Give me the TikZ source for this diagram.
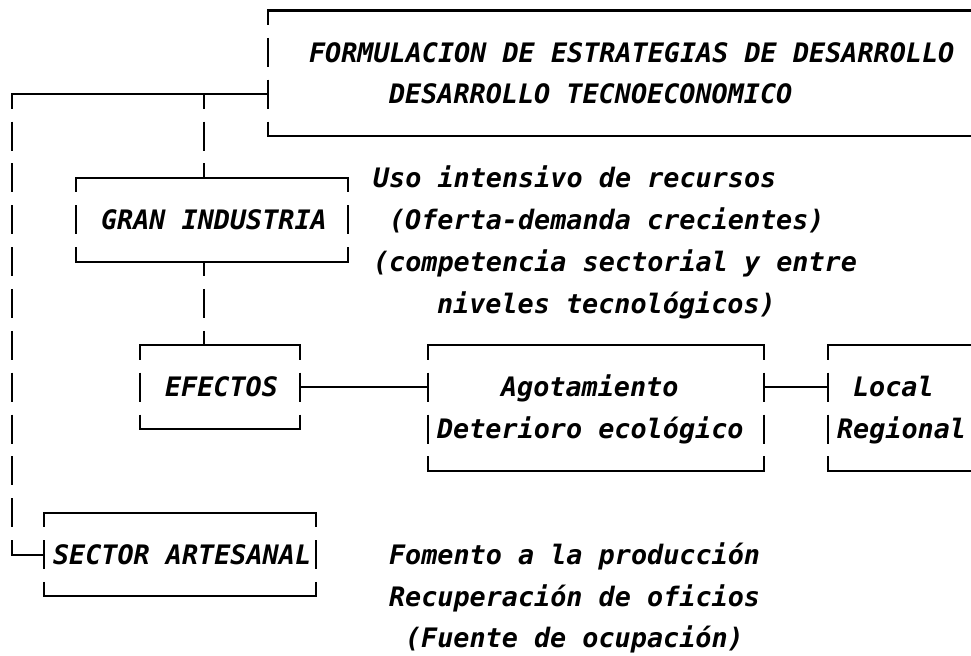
\documentclass[tikz,border=0pt]{standalone}
\usepackage{fontspec}
\setmonofont{DejaVu Sans Mono}
\newcommand\dfont{\fontsize{26.8}{30}\selectfont\ttfamily\bfseries\itshape}
\tikzset{
  hl/.style={line width=2.1pt, line cap=rect},
  vl/.style={line width=2.1pt, dash pattern=on 29pt off 12.85pt, dash phase=14.5pt},
  boxn/.style={rectangle, draw=none, inner sep=0pt, outer sep=0pt},
  txt/.style={anchor=base west, inner sep=0pt, outer sep=0pt, yshift=-9.7pt, font=\dfont, xshift=1pt}
}
\newcommand\dbox[1]{%
  \draw[hl] (#1.north west) -- (#1.north east);
  \draw[hl] (#1.south west) -- (#1.south east);
  \draw[vl] (#1.north west) -- (#1.south west);
  \draw[vl] (#1.north east) -- (#1.south east);}
\begin{document}
\begin{tikzpicture}[x=16pt, y=-41.85pt]
\useasboundingbox (-0.75,-0.2509) rectangle (59.9375,15.424);
\begin{scope}
% boxes (cols a..b, rows c..d)
\node[boxn, minimum width=704pt, minimum height=125.55pt] (main) at (38,1.5) {};
\node[boxn, minimum width=272pt, minimum height=83.7pt] (gran) at (12.5,5) {};
\node[boxn, minimum width=160pt, minimum height=83.7pt] (efectos) at (13,9) {};
\node[boxn, minimum width=336pt, minimum height=125.55pt] (agot) at (36.5,9.5) {};
\node[boxn, minimum width=144pt, minimum height=125.55pt] (local) at (55.5,9.5) {};
\node[boxn, minimum width=272pt, minimum height=83.7pt] (sector) at (10.5,13) {};
\dbox{main}\dbox{gran}\dbox{efectos}\dbox{agot}\dbox{local}\dbox{sector}
% junctions
\coordinate (j1) at (0,2);
\coordinate (t1) at (12,2);
% texts
\node[txt] (tf) at (18.5,1) {FORMULACION DE ESTRATEGIAS DE DESARROLLO};
\node[txt] (td) at (23.5,2) {DESARROLLO TECNOECONOMICO};
\node[txt] (tu1) at (22.5,4) {Uso intensivo de recursos};
\node[txt] (tu2) at (23.5,5) {(Oferta-demanda crecientes)};
\node[txt] (tu3) at (22.5,6) {(competencia sectorial y entre};
\node[txt] (tu4) at (26.5,7) {niveles tecnológicos)};
\node[txt] (tg) at (5.5,5) {GRAN INDUSTRIA};
\node[txt] (te) at (9.5,9) {EFECTOS};
\node[txt] (ta1) at (30.5,9) {Agotamiento};
\node[txt] (ta2) at (26.5,10) {Deterioro ecológico};
\node[txt] (tl1) at (52.5,9) {Local};
\node[txt] (tl2) at (51.5,10) {Regional};
\node[txt] (ts) at (2.5,13) {SECTOR ARTESANAL};
\node[txt] (tp1) at (23.5,13) {Fomento a la producción};
\node[txt] (tp2) at (23.5,14) {Recuperación de oficios};
\node[txt] (tp3) at (24.5,15) {(Fuente de ocupación)};
% connectors
\draw[hl] (j1) -- (j1 -| main.west);
\draw[vl] (j1) -- (j1 |- sector.west);
\draw[hl] (j1 |- sector.west) -- (sector.west);
\draw[vl] (t1) -- (t1 |- gran.north);
\draw[vl] (t1 |- gran.south) -- (t1 |- efectos.north);
\draw[hl] (efectos.east) -- (agot.west |- efectos.east);
\draw[hl] (agot.east |- efectos.east) -- (local.west |- efectos.east);
\end{scope}
\end{tikzpicture}
\end{document}
